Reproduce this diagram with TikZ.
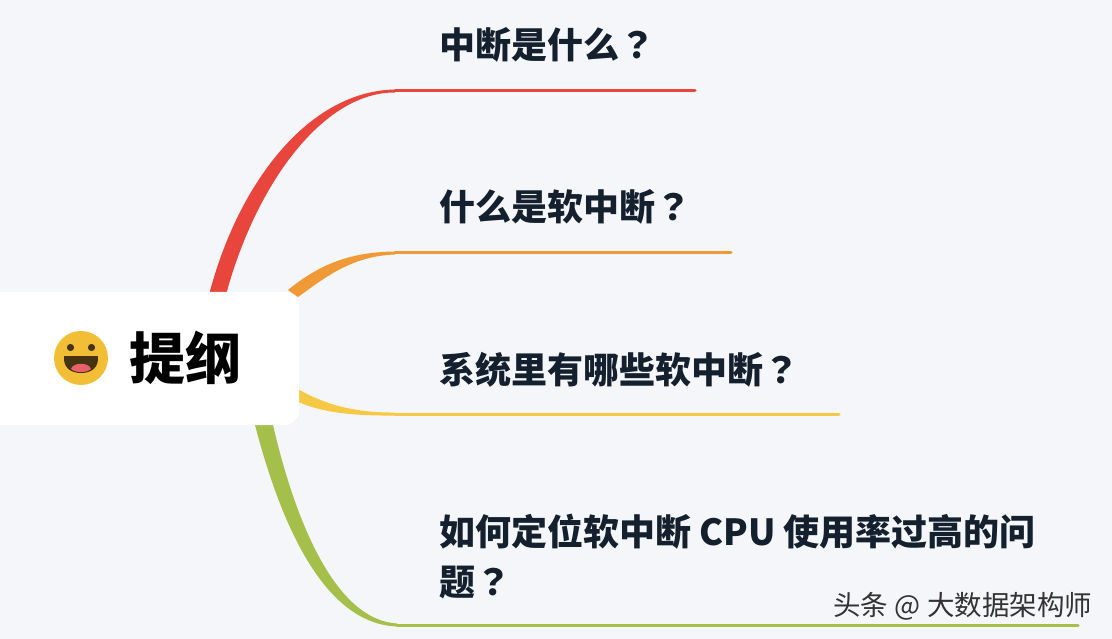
\documentclass[tikz,border=0pt]{standalone}
\usepackage{fontspec}
\usepackage{xcolor}
\setmainfont{Noto Sans CJK SC}
\newfontfamily\tcfont{Noto Sans CJK TC}
\newcommand{\qmark}{{\tcfont ？}}
\definecolor{pagebg}{HTML}{F5F6F9}
\definecolor{inkdark}{HTML}{14202E}
\definecolor{branchred}{HTML}{E8453C}
\definecolor{branchorange}{HTML}{F09A37}
\definecolor{branchyellow}{HTML}{F6C945}
\definecolor{branchgreen}{HTML}{A4BF4A}
\definecolor{smileface}{HTML}{F2BE36}
\definecolor{smileink}{HTML}{46330F}
\definecolor{smiletongue}{HTML}{E8606A}
\tikzset{
  topic/.style={anchor=base west,inner sep=0pt,text=inkdark,font=\fontsize{36}{50}\selectfont\bfseries,align=left},
  branchline/.style={line width=3pt,line cap=round},
}
\begin{document}
\begin{tikzpicture}[x=1pt,y=-1pt]
\useasboundingbox (0,0) rectangle (1112,639);
\fill[pagebg] (0,0) rectangle (1112,639);

% branch ends
\coordinate (redend) at (695,91);
\coordinate (orangeend) at (731,253);
\coordinate (yellowend) at (839,414);
\coordinate (greenend) at (1078,625);
\coordinate (redbend) at (395,91);
\coordinate (orangebend) at (395,253);
\coordinate (yellowbend) at (395,414);
\coordinate (greenbend) at (397,625);

% tapered curves
\fill[branchred] (210,296) -- (210,291) .. controls (240,180) and (310,91) .. (395,89.5) -- (395,92.5) .. controls (325,92) and (258,180) .. (227,291) -- (226,296) -- cycle;
\fill[branchorange] (288,290) .. controls (315,268) and (345,252) .. (395,251.5) -- (395,254.5) .. controls (350,256) and (322,280) .. (298,297) -- cycle;
\fill[branchyellow] (296,388) .. controls (320,402) and (350,413) .. (395,412.5) -- (395,415.5) .. controls (350,416) and (320,412) .. (296,401) -- cycle;
\fill[branchgreen] (255,420) -- (255,425) .. controls (285,540) and (330,624) .. (397,626.5) -- (397,623.5) .. controls (335,620) and (295,520) .. (273,425) -- (272,420) -- cycle;

\draw[branchline,branchred] (redbend) -- (redend);
\draw[branchline,branchorange] (orangebend) -- (orangeend);
\draw[branchline,branchyellow] (yellowbend) -- (yellowend);
\draw[branchline,branchgreen] (greenbend) -- (greenend);

% root
\fill[white,rounded corners=14pt] (-30,292) rectangle (299,425);
\node[anchor=base west,inner sep=0pt,font=\fontsize{56}{60}\selectfont\bfseries,text=black] (root) at (129,379.5) {提纲};

% smiley
\fill[smileface] (81,358) circle (27);
\fill[smileink] (70.5,347.5) circle (3.6);
\fill[smileink] (91.5,347.5) circle (3.6);
\fill[smileink] (64,356) -- (98,356) .. controls (99,368) and (91,373) .. (81,373) .. controls (71,373) and (63,368) .. (64,356) -- cycle;
\fill[smiletongue] (71,369) .. controls (73,362) and (89,362) .. (91,369) .. controls (87,373) and (75,373) .. (71,369) -- cycle;

% topics
\node[topic] (whatint) at (439,59) {中断是什么\qmark};
\node[topic] (whatsoft) at (439,221) {什么是软中断\qmark};
\node[topic] (listsoft) at (439,383) {系统里有哪些软中断\qmark};
\node[topic] (locate) at (439,595) {如何定位软中断 CPU 使用率过高的问\\题\qmark};

% watermark
\node[anchor=base west,inner sep=0pt,font=\fontsize{27.5}{30}\selectfont,text=black!80] (mark) at (833,615) {头条 @\hspace{7pt}大数据架构师};
\end{tikzpicture}
\end{document}
